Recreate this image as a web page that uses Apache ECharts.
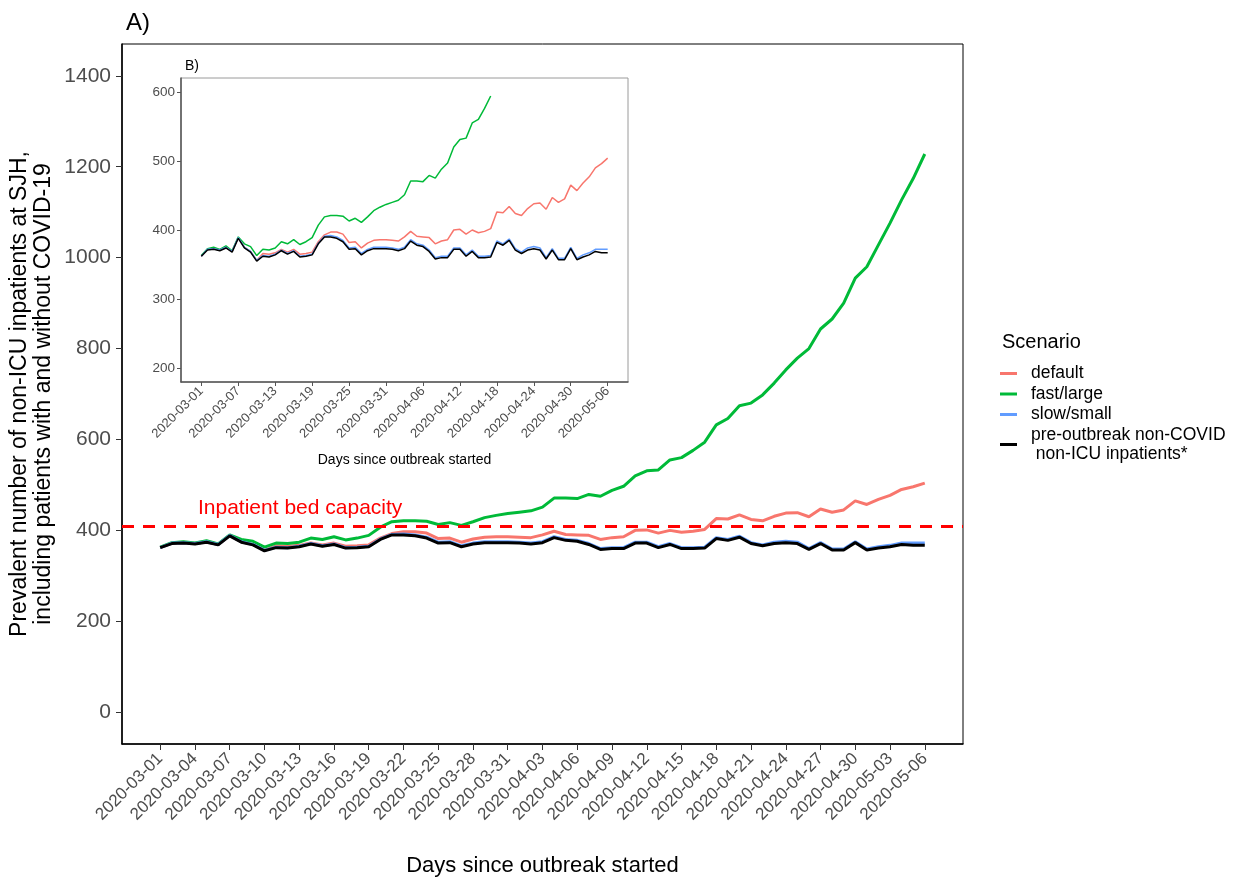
<!DOCTYPE html>
<html>
<head>
<meta charset="utf-8">
<script src="https://cdn.jsdelivr.net/npm/echarts@6/dist/echarts.min.js"></script>
<style>
  html, body { margin: 0; padding: 0; background: #ffffff; }
  #chart { width: 1233px; height: 877px; }
</style>
</head>
<body>
<div id="chart"></div>
<script>
// Daily dates from 2020-03-01 to 2020-05-06
const dates = (function () {
  const out = [];
  const t0 = Date.UTC(2020, 2, 1);
  for (let i = 0; i < 67; i++) {
    const d = new Date(t0 + i * 86400000);
    const mm = String(d.getUTCMonth() + 1).padStart(2, '0');
    const dd = String(d.getUTCDate()).padStart(2, '0');
    out.push(d.getUTCFullYear() + '-' + mm + '-' + dd);
  }
  return out;
})();

// Prevalent non-ICU inpatients per scenario
const defaultScenario = [362, 372, 373, 371, 375, 369, 389, 375, 369, 356, 366, 365, 367, 372, 368, 372, 365, 366, 368, 383,
  393, 397, 397, 394, 382, 383, 374, 381, 385, 386, 386, 385, 384, 390, 398, 391, 390, 389, 380, 384,
  386, 400, 401, 394, 400, 396, 398, 402, 426, 425, 434, 424, 421, 431, 438, 439, 430, 447, 440, 445,
  465, 457, 468, 477, 490, 496, 504];
const fastLarge = [363, 373, 375, 372, 377, 370, 390, 380, 376, 363, 372, 371, 374, 383, 380, 386, 379, 383, 389, 407,
  419, 421, 421, 420, 413, 417, 411, 419, 428, 433, 437, 440, 443, 451, 471, 471, 470, 479, 475, 488,
  497, 520, 531, 533, 555, 560, 576, 594, 632, 646, 674, 680, 698, 724, 753, 779, 800, 843, 865, 900,
  955, 980, 1028, 1076, 1127, 1174, 1228];
const slowSmall = [362, 372, 373, 371, 375, 369, 389, 375, 369, 356, 363, 362, 365, 371, 366, 370, 362, 363, 365, 381,
  391, 392, 390, 385, 374, 375, 366, 372, 375, 375, 375, 374, 372, 375, 386, 380, 378, 371, 360, 362,
  362, 374, 374, 364, 371, 362, 362, 363, 384, 380, 387, 373, 368, 374, 376, 374, 360, 373, 359, 359,
  375, 359, 364, 367, 372, 372, 372];
const preOutbreak = [362, 371, 372, 370, 374, 368, 388, 374, 368, 355, 362, 361, 364, 370, 365, 369, 361, 362, 364, 380,
  390, 390, 388, 383, 372, 373, 364, 370, 373, 373, 373, 372, 370, 373, 384, 378, 376, 369, 358, 360,
  360, 372, 372, 362, 369, 360, 360, 361, 382, 378, 385, 371, 366, 371, 373, 371, 358, 371, 357, 357,
  373, 357, 361, 364, 369, 367, 367];

const bedCapacity = 408;

// Tick positions (day index) and y tick values
const mainXTicks = [0, 3, 6, 9, 12, 15, 18, 21, 24, 27, 30, 33, 36, 39, 42, 45, 48, 51, 54, 57, 60, 63, 66];
const insetXTicks = [0, 6, 12, 18, 24, 30, 36, 42, 48, 54, 60, 66];
const mainYTicks = [0, 200, 400, 600, 800, 1000, 1200, 1400];
const insetYTicks = [200, 300, 400, 500, 600];
const insetLimits = [200, 600];

const seriesDefs = [
  { name: 'default', data: defaultScenario, color: '#F8766D' },
  { name: 'fast/large', data: fastLarge, color: '#00BA38' },
  { name: 'slow/small', data: slowSmall, color: '#619CFF' },
  { name: 'pre-outbreak non-COVID non-ICU inpatients*', data: preOutbreak, color: '#000000' }
];

const FONT = '"Liberation Sans", Arial, sans-serif';
const GREY = '#4d4d4d';

function pairs(arr, clipRange) {
  return arr.map(function (v, i) {
    if (clipRange && (v < clipRange[0] || v > clipRange[1])) return [i, null];
    return [i, v];
  });
}

const series = [];
seriesDefs.forEach(function (s, k) {
  const main = {
    name: s.name, type: 'line', xAxisIndex: 0, yAxisIndex: 0,
    data: pairs(s.data), showSymbol: false, symbol: 'none',
    lineStyle: { color: s.color, width: 3 }, itemStyle: { color: s.color },
    z: 2, animation: false
  };
  if (k === 0) {
    main.markLine = {
      silent: true, symbol: 'none', animation: false,
      lineStyle: { color: '#FF0000', type: [12, 9], width: 3 },
      label: {
        show: true, position: 'insideStartTop', formatter: 'Inpatient bed capacity',
        color: '#FF0000', fontSize: 21, fontFamily: FONT, padding: [0, 0, 3, 71]
      },
      data: [{ yAxis: bedCapacity }]
    };
  }
  series.push(main);
});
seriesDefs.forEach(function (s, k) {
  const inset = {
    name: s.name, type: 'line', xAxisIndex: 1, yAxisIndex: 1,
    data: pairs(s.data, insetLimits), showSymbol: false, symbol: 'none', connectNulls: false,
    lineStyle: { color: s.color, width: 1.5 }, itemStyle: { color: s.color },
    z: 12, zlevel: 1, animation: false
  };
  if (k === 0) {
    inset.markLine = {
      silent: true, symbol: 'none', animation: false,
      lineStyle: { color: '#FF0000', type: [6, 5], width: 1.5 },
      label: {
        show: true, position: 'insideStartTop', formatter: 'Inpatient bed capacity',
        color: '#FF0000', fontSize: 12.5, fontFamily: FONT, padding: [0, 0, 2, 26]
      },
      data: [{ yAxis: bedCapacity }]
    };
  }
  series.push(inset);
});

const plainNumber = function (v) { return String(v); };
const dateLabel = function (v) { return dates[Math.round(v)]; };

const chart = echarts.init(document.getElementById('chart'), null, { renderer: 'canvas' });
chart.setOption({
  backgroundColor: '#ffffff',
  animation: false,
  textStyle: { fontFamily: FONT },
  title: [
    { text: 'A)', left: 121, top: 6, textStyle: { fontSize: 24, fontWeight: 'normal', color: '#000', fontFamily: FONT } },
    { text: 'B)', left: 180, top: 54, zlevel: 1, textStyle: { fontSize: 14, fontWeight: 'normal', color: '#000', fontFamily: FONT } },
    { text: 'Scenario', left: 997, top: 327, textStyle: { fontSize: 20, fontWeight: 'normal', color: '#000', fontFamily: FONT } }
  ],
  legend: {
    data: seriesDefs.map(function (s) { return s.name; }),
    orient: 'vertical', left: 995, top: 359,
    icon: 'rect', itemWidth: 17, itemHeight: 3, itemGap: 1.5,
    selectedMode: false,
    formatter: function (name) {
      return name === 'pre-outbreak non-COVID non-ICU inpatients*'
        ? 'pre-outbreak non-COVID\n non-ICU inpatients*' : name;
    },
    textStyle: { fontSize: 17.5, color: '#000', fontFamily: FONT, lineHeight: 19, padding: [0, 0, 0, 9] }
  },
  grid: [
    { left: 122, top: 44, width: 841, height: 700, show: true, borderColor: '#000', borderWidth: 1, backgroundColor: '#fff', containLabel: false, outerBoundsMode: 'none' },
    { left: 181, top: 78, width: 447, height: 304, show: true, borderColor: '#9a9a9a', borderWidth: 1, backgroundColor: '#fff', z: 10, zlevel: 1, containLabel: false, outerBoundsMode: 'none' }
  ],
  xAxis: [
    {
      gridIndex: 0, type: 'value', min: -3.3, max: 69.3,
      name: 'Days since outbreak started', nameLocation: 'middle', nameGap: 111,
      nameTextStyle: { fontSize: 22, color: '#000', fontFamily: FONT },
      axisLine: { show: true, onZero: false, lineStyle: { color: '#000', width: 1.5 } },
      axisTick: { show: true, customValues: mainXTicks, length: 6, lineStyle: { color: '#333' } },
      axisLabel: { customValues: mainXTicks, rotate: 45, fontSize: 17, color: GREY, margin: 12, formatter: dateLabel },
      splitLine: { show: false }
    },
    {
      gridIndex: 1, type: 'value', min: -3.3, max: 69.3,
      name: 'Days since outbreak started', nameLocation: 'middle', nameGap: 71,
      nameTextStyle: { fontSize: 14, color: '#000', fontFamily: FONT },
      axisLine: { show: true, onZero: false, lineStyle: { color: '#555', width: 1.5 } },
      axisTick: { show: true, customValues: insetXTicks, length: 4, lineStyle: { color: '#555' } },
      axisLabel: { customValues: insetXTicks, rotate: 45, fontSize: 13, color: GREY, margin: 7, formatter: dateLabel },
      splitLine: { show: false }, zlevel: 1, z: 11
    }
  ],
  yAxis: [
    {
      gridIndex: 0, type: 'value', min: -70, max: 1470,
      name: 'Prevalent number of non-ICU inpatients at SJH,\nincluding patients with and without COVID-19',
      nameLocation: 'middle', nameGap: 66, nameRotate: 90, nameMoveOverlap: false,
      nameTextStyle: { fontSize: 23, color: '#000', fontFamily: FONT, lineHeight: 24 },
      axisLine: { show: true, onZero: false, lineStyle: { color: '#000', width: 1.5 } },
      axisTick: { show: true, customValues: mainYTicks, length: 6, lineStyle: { color: '#333' } },
      axisLabel: { customValues: mainYTicks, fontSize: 21, color: GREY, margin: 11, formatter: plainNumber },
      splitLine: { show: false }
    },
    {
      gridIndex: 1, type: 'value', min: 180, max: 620,
      axisLine: { show: true, onZero: false, lineStyle: { color: '#555', width: 1.5 } },
      axisTick: { show: true, customValues: insetYTicks, length: 4, lineStyle: { color: '#555' } },
      axisLabel: { customValues: insetYTicks, fontSize: 13.5, color: GREY, margin: 6, formatter: plainNumber },
      splitLine: { show: false }, zlevel: 1, z: 11
    }
  ],
  series: series
});
</script>
</body>
</html>
